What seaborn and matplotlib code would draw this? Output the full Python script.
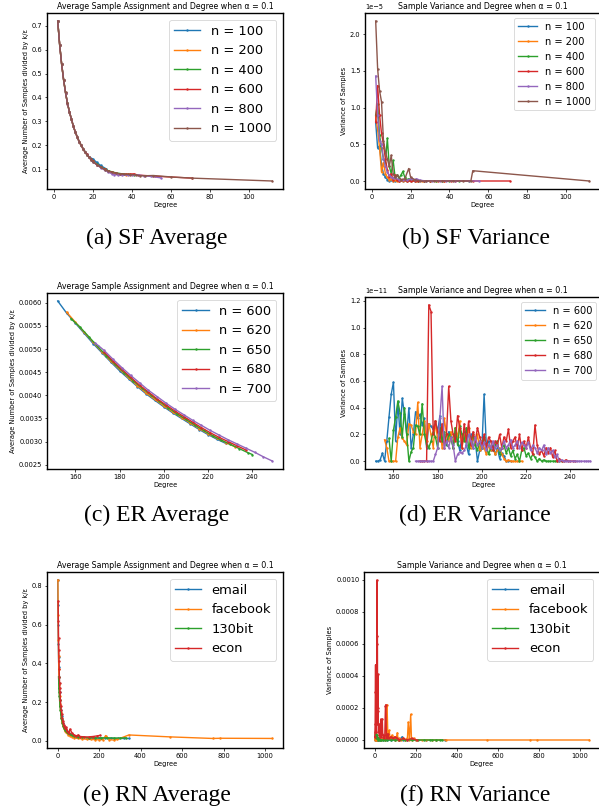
import matplotlib
matplotlib.use('Agg')
import matplotlib.pyplot as plt
import seaborn as sns

plt.rcParams['font.family'] = ['DejaVu Sans']

# ---------- (a) SF average ----------
sf_deg_100 = [2, 3, 4, 5, 6, 7, 8, 9, 10, 11, 12, 13, 14, 15, 16, 17, 18, 20, 22, 24, 27]
sf_avg_100 = [0.72, 0.62, 0.54, 0.475, 0.42, 0.375, 0.34, 0.31, 0.28, 0.256, 0.235, 0.215, 0.2, 0.186,
              0.173, 0.162, 0.152, 0.142, 0.128, 0.115, 0.1]
sf_deg_200 = [2, 3, 4, 5, 6, 7, 8, 9, 10, 11, 12, 13, 14, 15, 16, 17, 18, 19, 20, 22, 24, 26, 28, 30, 33, 37]
sf_avg_200 = [0.72, 0.62, 0.54, 0.474, 0.42, 0.374, 0.339, 0.308, 0.279, 0.255, 0.234, 0.214, 0.199, 0.184,
              0.171, 0.16, 0.15, 0.14, 0.132, 0.119, 0.108, 0.099, 0.092, 0.086, 0.08, 0.077]
sf_deg_400 = [2, 3, 4, 5, 6, 7, 8, 9, 10, 11, 12, 13, 14, 15, 16, 17, 18, 19, 20, 22, 24, 26, 28, 30, 32, 35,
              38, 41]
sf_avg_400 = [0.72, 0.62, 0.54, 0.475, 0.42, 0.375, 0.34, 0.309, 0.28, 0.255, 0.234, 0.215, 0.2, 0.185,
              0.172, 0.16, 0.15, 0.141, 0.133, 0.12, 0.11, 0.1, 0.093, 0.088, 0.084, 0.08, 0.078, 0.076]
sf_deg_600 = [2, 3, 4, 5, 6, 7, 8, 9, 10, 11, 12, 13, 14, 15, 16, 17, 18, 19, 20, 22, 24, 26, 28, 30, 32, 34,
              37, 39, 41, 43, 52, 71]
sf_avg_600 = [0.72, 0.62, 0.54, 0.475, 0.42, 0.375, 0.34, 0.31, 0.28, 0.256, 0.234, 0.215, 0.2, 0.185,
              0.172, 0.161, 0.15, 0.141, 0.132, 0.119, 0.108, 0.099, 0.091, 0.086, 0.082, 0.079, 0.078,
              0.079, 0.08, 0.075, 0.07, 0.062]
sf_deg_800 = [2, 3, 4, 5, 6, 7, 8, 9, 10, 11, 12, 13, 14, 15, 16, 17, 18, 19, 20, 22, 24, 26, 28, 30, 31, 33,
              35, 38, 40, 43, 46, 50, 55]
sf_avg_800 = [0.72, 0.62, 0.54, 0.474, 0.42, 0.374, 0.339, 0.309, 0.279, 0.255, 0.234, 0.214, 0.199, 0.184,
              0.171, 0.16, 0.149, 0.139, 0.13, 0.118, 0.106, 0.096, 0.087, 0.079, 0.077, 0.075, 0.075,
              0.074, 0.074, 0.076, 0.072, 0.069, 0.063]
sf_deg_1000 = [2, 3, 4, 5, 6, 7, 8, 9, 10, 11, 12, 13, 14, 15, 16, 17, 18, 19, 20, 22, 24, 26, 28, 30, 32, 34,
               36, 39, 42, 44, 47, 51, 60, 71, 112]
sf_avg_1000 = [0.72, 0.62, 0.54, 0.475, 0.421, 0.375, 0.34, 0.31, 0.28, 0.255, 0.235, 0.215, 0.2, 0.185,
               0.172, 0.16, 0.15, 0.14, 0.131, 0.119, 0.108, 0.098, 0.091, 0.086, 0.082, 0.08, 0.078,
               0.077, 0.076, 0.072, 0.072, 0.073, 0.067, 0.062, 0.05]

# ---------- (b) SF variance (units of 1e-5) ----------
sf_vdeg_100 = [2, 3, 4, 5, 6, 7, 8, 9, 10, 11, 12, 14, 16, 18, 20, 22, 24, 27]
sf_var_100 = [0.8, 0.45, 0.48, 0.22, 0.1, 0.05, 0.02, 0.0, 0.01, 0.0, 0.0, 0.0, 0.0, 0.0, 0.0, 0.0, 0.0, 0.0]
sf_vdeg_200 = [2, 3, 4, 5, 6, 7, 8, 9, 10, 11, 12, 13, 14, 16, 18, 20, 23, 26, 30, 33, 37]
sf_var_200 = [0.88, 0.7, 0.45, 0.12, 0.25, 0.1, 0.05, 0.02, 0.03, 0.0, 0.02, 0.0, 0.0, 0.0, 0.0, 0.0, 0.0,
              0.0, 0.0, 0.0, 0.0]
sf_vdeg_400 = [2, 3, 4, 5, 6, 7, 8, 9, 10, 11, 12, 13, 14, 15, 16, 17, 18, 19, 20, 22, 24, 27, 30, 33, 36, 40,
               45, 50]
sf_var_400 = [0.9, 1.05, 0.62, 0.45, 0.3, 0.25, 0.58, 0.2, 0.1, 0.28, 0.05, 0.08, 0.04, 0.08, 0.13, 0.05,
              0.02, 0.03, 0.01, 0.01, 0.0, 0.0, 0.0, 0.0, 0.0, 0.0, 0.0, 0.0]
sf_vdeg_600 = [2, 3, 4, 5, 6, 7, 8, 9, 10, 11, 12, 13, 14, 16, 18, 20, 22, 24, 27, 30, 34, 37, 41, 43, 52, 71]
sf_var_600 = [0.8, 1.3, 0.9, 0.65, 0.5, 0.3, 0.15, 0.05, 0.1, 0.02, 0.08, 0.01, 0.0, 0.02, 0.0, 0.0, 0.0,
              0.0, 0.0, 0.0, 0.0, 0.0, 0.0, 0.0, 0.0, 0.0]
sf_vdeg_800 = [2, 3, 4, 5, 6, 7, 8, 9, 10, 11, 12, 14, 16, 18, 20, 22, 23, 25, 28, 31, 35, 38, 43, 50, 55]
sf_var_800 = [1.43, 0.9, 0.55, 0.5, 0.3, 0.2, 0.12, 0.08, 0.05, 0.04, 0.04, 0.02, 0.02, 0.01, 0.03, 0.02,
              0.03, 0.01, 0.0, 0.0, 0.0, 0.0, 0.0, 0.0, 0.0]
sf_vdeg_1000 = [2, 3, 4, 5, 6, 7, 8, 9, 10, 11, 12, 13, 15, 17, 19, 20, 22, 25, 28, 32, 36, 42, 47, 51, 52, 112]
sf_var_1000 = [2.18, 1.53, 1.23, 1.08, 0.55, 0.4, 0.3, 0.2, 0.35, 0.1, 0.05, 0.08, 0.02, 0.03, 0.17, 0.05,
               0.02, 0.0, 0.0, 0.0, 0.0, 0.0, 0.0, 0.0, 0.14, 0.0]
sf_var_scale = 1e-5

# ---------- (c) ER average ----------
er_deg_600 = [152, 156, 160, 164, 168, 172, 176, 180, 184, 188, 192, 196, 200, 204, 208, 212, 216, 220, 224, 228]
er_avg_600 = [0.00604, 0.00578, 0.00556, 0.00534, 0.00512, 0.00492, 0.00472, 0.00453, 0.00436, 0.00419,
              0.00403, 0.00389, 0.00375, 0.00362, 0.0035, 0.00338, 0.00326, 0.00315, 0.00305, 0.00296]
er_deg_620 = [156, 160, 164, 168, 172, 176, 180, 184, 188, 192, 196, 200, 204, 208, 212, 216, 220, 224, 228, 232]
er_avg_620 = [0.0058, 0.00558, 0.00536, 0.00515, 0.00494, 0.00474, 0.00456, 0.00438, 0.00421, 0.00405,
              0.00391, 0.00377, 0.00364, 0.00352, 0.0034, 0.00328, 0.00317, 0.00307, 0.00298, 0.00289]
er_deg_650 = [158, 162, 166, 170, 174, 178, 182, 186, 190, 194, 198, 202, 206, 210, 214, 218, 222, 226, 230,
              234, 238, 240]
er_avg_650 = [0.00566, 0.00548, 0.00527, 0.00506, 0.00486, 0.00467, 0.00449, 0.00432, 0.00416, 0.00401,
              0.00387, 0.00373, 0.0036, 0.00348, 0.00336, 0.00324, 0.00313, 0.00303, 0.00294, 0.00285,
              0.00276, 0.00272]
er_deg_680 = [173, 177, 181, 185, 189, 193, 197, 201, 205, 209, 213, 217, 221, 225, 229, 233, 237]
er_avg_680 = [0.00494, 0.00474, 0.00456, 0.00439, 0.00422, 0.00407, 0.00392, 0.00379, 0.00366, 0.00354,
              0.00342, 0.0033, 0.00319, 0.00309, 0.003, 0.00291, 0.00282]
er_deg_700 = [169, 173, 177, 181, 185, 189, 193, 197, 201, 205, 209, 213, 217, 221, 225, 229, 233, 237, 241,
              245, 249]
er_avg_700 = [0.00513, 0.00497, 0.00478, 0.0046, 0.00443, 0.00427, 0.00411, 0.00397, 0.00383, 0.0037,
              0.00358, 0.00346, 0.00335, 0.00324, 0.00314, 0.00304, 0.00295, 0.00286, 0.00277, 0.00267,
              0.00258]

# ---------- (d) ER variance (units of 1e-11), one value per degree ----------
er_vdeg_600 = list(range(152, 214))
er_var_600 = [0.0, 0.0, 0.01, 0.06, 0.0, 0.15, 0.33, 0.5, 0.59, 0.15,
              0.44, 0.2, 0.47, 0.35, 0.2, 0.4, 0.1, 0.2, 0.37, 0.32,
              0.35, 0.27, 0.32, 0.1, 0.28, 0.26, 0.24, 0.3, 0.22, 0.34,
              0.15, 0.2, 0.12, 0.22, 0.18, 0.1, 0.2, 0.15, 0.08, 0.18,
              0.22, 0.12, 0.05, 0.2, 0.1, 0.15, 0.0, 0.08, 0.1, 0.5,
              0.12, 0.15, 0.08, 0.12, 0.05, 0.1, 0.02, 0.06, 0.04, 0.0,
              0.0, 0.0]
er_vdeg_620 = list(range(156, 219))
er_var_620 = [0.16, 0.1, 0.0, 0.0, 0.0, 0.0, 0.18, 0.25, 0.17, 0.15,
              0.12, 0.28, 0.27, 0.22, 0.2, 0.44, 0.1, 0.2, 0.3, 0.15,
              0.28, 0.2, 0.1, 0.3, 0.15, 0.25, 0.1, 0.32, 0.2, 0.15,
              0.22, 0.1, 0.25, 0.18, 0.3, 0.1, 0.2, 0.15, 0.25, 0.1,
              0.18, 0.12, 0.2, 0.08, 0.15, 0.1, 0.05, 0.12, 0.08, 0.1,
              0.05, 0.08, 0.1, 0.05, 0.02, 0.0, 0.01, 0.0, 0.0, 0.0,
              0.0, 0.0, 0.0]
er_vdeg_650 = list(range(158, 237))
er_var_650 = [0.17, 0.0, 0.23, 0.33, 0.45, 0.36, 0.18, 0.4, 0.2, 0.0,
              0.07, 0.1, 0.27, 0.26, 0.2, 0.43, 0.2, 0.12, 0.1, 0.15,
              0.22, 0.18, 0.1, 0.25, 0.15, 0.22, 0.12, 0.2, 0.18, 0.1,
              0.25, 0.12, 0.26, 0.2, 0.15, 0.25, 0.1, 0.15, 0.2, 0.12,
              0.08, 0.15, 0.1, 0.18, 0.12, 0.05, 0.1, 0.08, 0.12, 0.15,
              0.05, 0.1, 0.12, 0.06, 0.1, 0.04, 0.08, 0.02, 0.05, 0.0,
              0.08, 0.1, 0.04, 0.06, 0.02, 0.05, 0.03, 0.0, 0.02, 0.0,
              0.01, 0.0, 0.0, 0.0, 0.0, 0.0, 0.0, 0.0, 0.0]
er_vdeg_680 = list(range(172, 243))
er_var_680 = [0.0, 0.0, 0.0, 0.0, 1.17, 1.12, 0.2, 0.3, 0.22, 0.15,
              0.28, 0.1, 0.2, 0.56, 0.3, 0.2, 0.15, 0.34, 0.25, 0.1,
              0.28, 0.15, 0.3, 0.12, 0.22, 0.15, 0.25, 0.18, 0.12, 0.2,
              0.1, 0.18, 0.15, 0.08, 0.15, 0.12, 0.2, 0.1, 0.18, 0.15,
              0.24, 0.1, 0.15, 0.18, 0.1, 0.2, 0.08, 0.15, 0.1, 0.18,
              0.1, 0.05, 0.27, 0.12, 0.05, 0.08, 0.04, 0.1, 0.06, 0.1,
              0.03, 0.08, 0.0, 0.02, 0.0, 0.0, 0.01, 0.0, 0.0, 0.0,
              0.0]
er_vdeg_700 = list(range(170, 250))
er_var_700 = [0.0, 0.0, 0.0, 0.0, 0.0, 0.0, 0.0, 0.0, 0.0, 0.05,
              0.1, 0.32, 0.56, 0.1, 0.15, 0.1, 0.18, 0.12, 0.0, 0.05,
              0.07, 0.06, 0.08, 0.12, 0.2, 0.15, 0.1, 0.18, 0.12, 0.15,
              0.1, 0.14, 0.08, 0.12, 0.1, 0.15, 0.1, 0.12, 0.08, 0.1,
              0.15, 0.1, 0.12, 0.16, 0.1, 0.12, 0.15, 0.1, 0.14, 0.12,
              0.1, 0.14, 0.08, 0.12, 0.1, 0.06, 0.1, 0.08, 0.12, 0.05,
              0.1, 0.06, 0.08, 0.03, 0.05, 0.0, 0.01, 0.0, 0.0, 0.0,
              0.0, 0.0, 0.0, 0.0, 0.0, 0.0, 0.0, 0.0, 0.0, 0.0]
er_var_scale = 1e-11

# ---------- (e) RN average ----------
email_deg = [1, 2, 3, 4, 5, 6, 7, 8, 9, 10, 12, 14, 16, 18, 20, 24, 28, 32, 36, 40, 45, 50, 55, 60, 70, 80,
             90, 100, 120, 140, 160, 180, 200, 230, 260, 290, 320, 345]
email_avg = [0.83, 0.7, 0.6, 0.5, 0.43, 0.38, 0.33, 0.3, 0.27, 0.25, 0.21, 0.18, 0.16, 0.14, 0.13, 0.105,
             0.09, 0.075, 0.065, 0.058, 0.05, 0.044, 0.04, 0.035, 0.03, 0.025, 0.022, 0.02, 0.018, 0.016,
             0.015, 0.014, 0.014, 0.013, 0.013, 0.012, 0.012, 0.012]
facebook_deg = [2, 3, 4, 5, 6, 8, 10, 12, 15, 18, 22, 26, 30, 35, 40, 50, 60, 70, 80, 100, 120, 140, 160,
                180, 200, 220, 232, 250, 270, 288, 344, 544, 747, 784, 1035]
facebook_avg = [0.83, 0.65, 0.52, 0.44, 0.37, 0.29, 0.23, 0.19, 0.15, 0.12, 0.095, 0.078, 0.065, 0.052,
                0.043, 0.032, 0.025, 0.02, 0.016, 0.012, 0.01, 0.008, 0.007, 0.006, 0.005, 0.006, 0.027,
                0.005, 0.004, 0.007, 0.03, 0.02, 0.012, 0.013, 0.012]
bit130_deg = [5, 6, 7, 8, 9, 10, 12, 14, 16, 18, 20, 24, 28, 32, 36, 40, 45, 50, 60, 70, 80, 100, 120, 150,
              180, 210, 240, 270, 300, 330]
bit130_avg = [0.33, 0.3, 0.27, 0.25, 0.23, 0.21, 0.18, 0.16, 0.14, 0.12, 0.11, 0.09, 0.075, 0.065, 0.055,
              0.05, 0.045, 0.04, 0.033, 0.028, 0.024, 0.02, 0.018, 0.016, 0.015, 0.015, 0.015, 0.014,
              0.014, 0.015]
econ_deg = [3, 4, 5, 6, 7, 8, 9, 10, 11, 12, 14, 16, 18, 20, 22, 25, 28, 30, 33, 36, 40, 43, 46, 50, 55, 60,
            70, 80, 90, 100, 110, 130, 150, 170, 190, 205]
econ_avg = [0.72, 0.62, 0.53, 0.47, 0.41, 0.37, 0.33, 0.3, 0.27, 0.25, 0.21, 0.18, 0.16, 0.14, 0.12, 0.1,
            0.09, 0.08, 0.075, 0.065, 0.06, 0.07, 0.05, 0.045, 0.04, 0.06, 0.04, 0.03, 0.025, 0.03, 0.022,
            0.02, 0.02, 0.022, 0.025, 0.028]

# ---------- (f) RN variance ----------
email_vdeg = [1, 2, 3, 4, 5, 6, 7, 8, 10, 12, 15, 18, 20, 25, 30, 40, 50, 60, 80, 100, 120, 135, 140, 160,
              200, 250, 300, 345]
email_var = [0.00002, 0.00001, 0.000005, 0.0, 0.00001, 0.0, 0.000005, 0.0, 0.0, 0.00001,
             0.0, 0.0, 0.0, 0.0, 0.0, 0.0, 0.0, 0.0, 0.0, 0.0,
             0.0, 0.00002, 0.0, 0.0, 0.0, 0.0, 0.0, 0.0]
facebook_vdeg = [2, 3, 4, 5, 6, 8, 10, 15, 20, 30, 40, 50, 55, 58, 61, 65, 68, 71, 75, 80, 85, 91, 95, 100,
                 105, 111, 115, 120, 130, 140, 150, 160, 164, 170, 176, 180, 190, 200, 230, 250, 280, 300,
                 347, 548, 757, 792, 1045]
facebook_var = [0.00001, 0.0, 0.00001, 0.0, 0.00002, 0.0, 0.00001, 0.0, 0.00001, 0.0,
                0.00001, 0.0, 0.00001, 0.00021, 0.00022, 0.00002, 0.00001, 0.00006, 0.00002, 0.00001,
                0.00003, 0.00001, 0.00002, 0.0, 0.00001, 0.000045, 0.0, 0.00001, 0.0, 0.00001,
                0.0, 0.00001, 0.00011, 0.0, 0.00016, 0.0, 0.00001, 0.0, 0.0, 0.0,
                0.0, 0.0, 0.0, 0.0, 0.0, 0.0, 0.0]
bit130_vdeg = [5, 6, 7, 8, 10, 12, 14, 16, 18, 20, 25, 30, 40, 50, 60, 80, 100, 120, 150, 180, 210, 240,
               270, 280, 300, 320, 330]
bit130_var = [0.00003, 0.00002, 0.00004, 0.00001, 0.00002, 0.00001, 0.00003, 0.00001, 0.0, 0.00001,
              0.0, 0.0, 0.0, 0.0, 0.0, 0.0, 0.0, 0.0, 0.0, 0.0,
              0.0, 0.0, 0.0, 0.0, 0.0, 0.0, 0.0]
econ_vdeg = [1, 2, 3, 4, 5, 6, 7, 8, 9, 10, 11, 12, 13, 14, 15, 16, 17, 18, 19, 20, 22, 24, 26, 28, 30, 33,
             36, 38, 40, 43, 46, 50, 53, 55, 58, 60, 65, 70, 80, 90, 100, 110, 120, 140, 160, 180, 205]
econ_var = [0.00002, 0.00005, 0.0001, 0.0003, 0.00047, 0.0002, 0.00005, 0.0001, 0.0002, 0.0004,
            0.0001, 0.001, 0.0006, 0.00065, 0.0002, 0.00041, 0.0001, 0.00018, 0.00005, 0.0001,
            0.00009, 0.00003, 0.00005, 0.00002, 0.00013, 0.00002, 0.00004, 0.00013, 0.00003, 0.00002,
            0.00001, 0.00003, 0.00021, 0.00022, 0.00002, 0.00001, 0.00004, 0.00001, 0.00002, 0.00001,
            0.00002, 0.00001, 0.0, 0.00001, 0.0, 0.00001, 0.0]

sf_labels = ['n = 100', 'n = 200', 'n = 400', 'n = 600', 'n = 800', 'n = 1000']
er_labels = ['n = 600', 'n = 620', 'n = 650', 'n = 680', 'n = 700']
rn_labels = ['email', 'facebook', '130bit', 'econ']
colors = ['#1f77b4', '#ff7f0e', '#2ca02c', '#d62728', '#9467bd', '#8c564b']

avg_title = 'Average Sample Assignment and Degree when \u03b1 = 0.1'
var_title = 'Sample Variance and Degree when \u03b1 = 0.1'
avg_ylabel = 'Average Number of Samples divided by k/\u03b5'
var_ylabel = 'Variance of Samples'

W, H = 599, 811
fig = plt.figure(figsize=(W / 100, H / 100), dpi=100)


def add_ax(left, top, right, bottom):
    return fig.add_axes([left / W, 1 - bottom / H, (right - left) / W, (bottom - top) / H])


def draw(ax, series, labels, title, ylabel, legend_size, scale=1.0):
    for (xs, ys), lab, col in zip(series, labels, colors):
        sns.lineplot(x=xs, y=[v * scale for v in ys], ax=ax, label=lab, color=col,
                     marker='.', markersize=3.5, markeredgewidth=0, linewidth=1.0,
                     sort=False, estimator=None)
    ax.set_title(title, fontsize=5.7, pad=3)
    ax.set_xlabel('Degree', fontsize=4.8, labelpad=1.5)
    ax.set_ylabel(ylabel, fontsize=4.8, labelpad=2)
    ax.tick_params(labelsize=4.8, length=1.8, width=0.5, pad=1.5)
    ax.yaxis.get_offset_text().set_fontsize(4.8)
    for sp in ax.spines.values():
        sp.set_linewidth(1.0)
    leg = ax.legend(loc='upper right', fontsize=legend_size)
    leg.get_frame().set_linewidth(0.6)


ax_a = add_ax(47, 13, 283, 189)
draw(ax_a, [(sf_deg_100, sf_avg_100), (sf_deg_200, sf_avg_200), (sf_deg_400, sf_avg_400),
            (sf_deg_600, sf_avg_600), (sf_deg_800, sf_avg_800), (sf_deg_1000, sf_avg_1000)],
     sf_labels, avg_title, avg_ylabel, 9.4)

ax_b = add_ax(365, 13, 600, 189)
draw(ax_b, [(sf_vdeg_100, sf_var_100), (sf_vdeg_200, sf_var_200), (sf_vdeg_400, sf_var_400),
            (sf_vdeg_600, sf_var_600), (sf_vdeg_800, sf_var_800), (sf_vdeg_1000, sf_var_1000)],
     sf_labels, var_title, var_ylabel, 7.1, scale=sf_var_scale)

ax_c = add_ax(47, 293, 283, 469)
draw(ax_c, [(er_deg_600, er_avg_600), (er_deg_620, er_avg_620), (er_deg_650, er_avg_650),
            (er_deg_680, er_avg_680), (er_deg_700, er_avg_700)],
     er_labels, avg_title, avg_ylabel, 9.4)

ax_d = add_ax(365, 297, 601, 469)
draw(ax_d, [(er_vdeg_600, er_var_600), (er_vdeg_620, er_var_620), (er_vdeg_650, er_var_650),
            (er_vdeg_680, er_var_680), (er_vdeg_700, er_var_700)],
     er_labels, var_title, var_ylabel, 7.1, scale=er_var_scale)

ax_e = add_ax(47, 572, 283, 748)
draw(ax_e, [(email_deg, email_avg), (facebook_deg, facebook_avg), (bit130_deg, bit130_avg),
            (econ_deg, econ_avg)],
     rn_labels, avg_title, avg_ylabel, 9.4)

ax_f = add_ax(364, 572, 600, 748)
draw(ax_f, [(email_vdeg, email_var), (facebook_vdeg, facebook_var), (bit130_vdeg, bit130_var),
            (econ_vdeg, econ_var)],
     rn_labels, var_title, var_ylabel, 9.4)

# sub-figure captions
captions = [('(a) SF Average', 157, 238), ('(b) SF Variance', 476, 238),
            ('(c) ER Average', 157, 515), ('(d) ER Variance', 475, 515),
            ('(e) RN Average', 157, 795), ('(f) RN Variance', 475, 795)]
for txt, cx, cy in captions:
    fig.text(cx / W, 1 - cy / H, txt, ha='center', va='center', fontsize=17,
             family=['Liberation Serif', 'DejaVu Serif'])

plt.savefig('out.png', dpi=100)
